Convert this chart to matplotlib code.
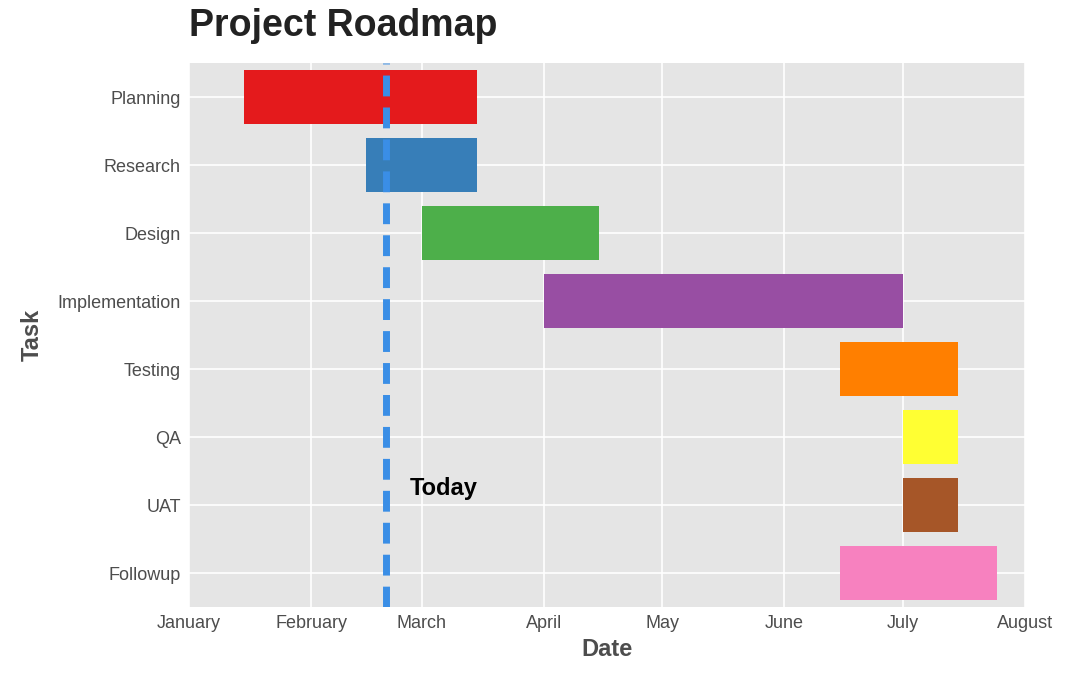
import matplotlib.pyplot as plt
import matplotlib.dates as mdates
import pandas as pd

plt.rcParams['font.family'] = ['Liberation Sans', 'DejaVu Sans']

tasks = ['Planning', 'Research', 'Design', 'Implementation', 'Testing', 'QA', 'UAT', 'Followup']
starts = ['2023-01-15', '2023-02-15', '2023-03-01', '2023-04-01', '2023-06-15', '2023-07-01', '2023-07-01', '2023-06-15']
ends = ['2023-03-15', '2023-03-15', '2023-04-15', '2023-07-01', '2023-07-15', '2023-07-15', '2023-07-15', '2023-07-25']
colors = ['#e41a1c', '#377eb8', '#4daf4a', '#984ea3', '#ff7f00', '#ffff33', '#a65628', '#f781bf']
today = '2023-02-20'

s = pd.to_datetime(starts)
e = pd.to_datetime(ends)

fig = plt.figure(figsize=(10.67, 6.8), dpi=100)
ax = fig.add_axes([189/1067, 1-607/680, (1025-189)/1067, (607-63)/680])
ax.set_facecolor('#e5e5e5')
for sp in ax.spines.values():
    sp.set_visible(False)

y = list(range(len(tasks)))
ax.barh(y, mdates.date2num(e) - mdates.date2num(s), left=mdates.date2num(s),
        height=0.8, color=colors, zorder=2)
ax.set_yticks(y)
ax.set_yticklabels(tasks)
ax.set_ylim(len(tasks) - 0.5, -0.5)

t = mdates.date2num(pd.Timestamp(today))
ax.axvline(t, color='#3a8ee6', linestyle='--', linewidth=5, dashes=(3, 1.6), zorder=3)
ax.text(t + 6, 5.75, 'Today', fontsize=17, fontweight='bold', va='center', zorder=4)

ax.set_xlim(mdates.date2num(pd.Timestamp('2023-01-01')), mdates.date2num(pd.Timestamp('2023-08-01')))
ax.xaxis.set_major_locator(mdates.MonthLocator())
ax.xaxis.set_major_formatter(mdates.DateFormatter('%B'))
ax.grid(True, color='white', linewidth=1.2, zorder=0)
ax.set_axisbelow(True)
ax.tick_params(length=0, labelsize=13, labelcolor='#4d4d4d', pad=6)

ax.set_xlabel('Date', fontsize=17, fontweight='bold', color='#4d4d4d', labelpad=4)
ax.set_ylabel('Task', fontsize=17, fontweight='bold', color='#4d4d4d', labelpad=10)
fig.text(189/1067, 1-26/680, 'Project Roadmap', fontsize=27, fontweight='bold',
         color='#222222', va='center', ha='left')

fig.savefig('out.png', dpi=100)
